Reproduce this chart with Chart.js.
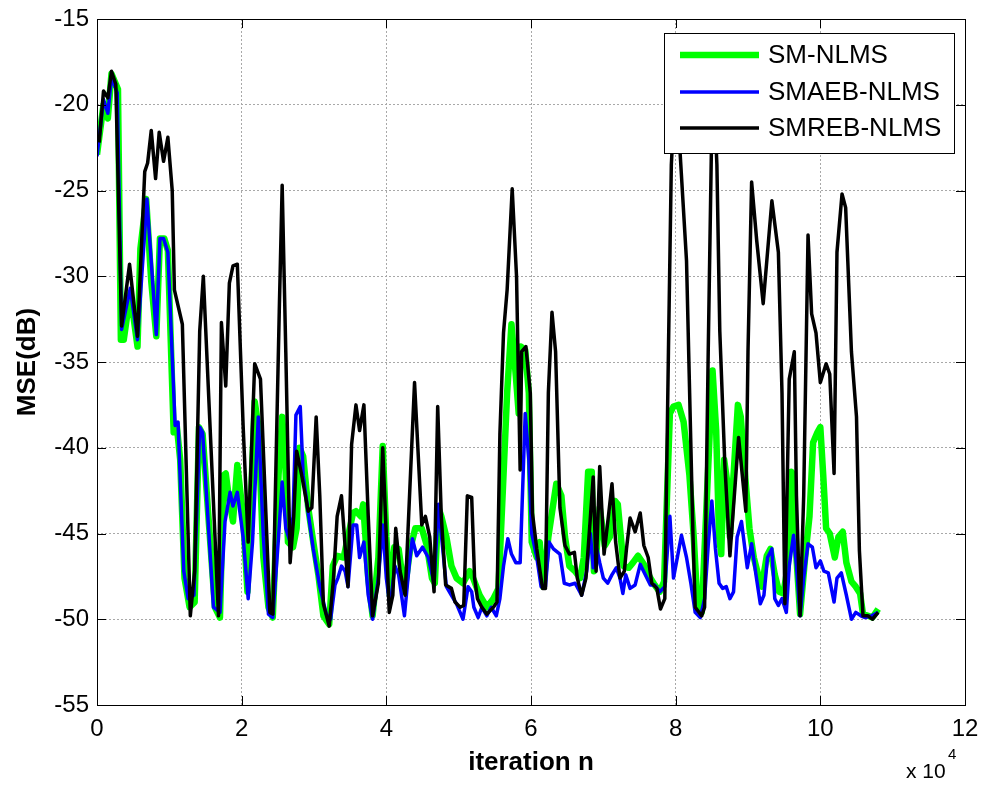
<!DOCTYPE html>
<html>
<head>
<meta charset="utf-8">
<script src="https://cdn.jsdelivr.net/npm/chart.js@4.4.1/dist/chart.umd.min.js"></script>
<style>
  html, body { margin: 0; padding: 0; background: #fff; }
  #wrap { position: relative; width: 982px; height: 787px; }
</style>
</head>
<body>
<div id="wrap"><canvas id="mse"></canvas></div>
<script>
// iteration n, MSE in dB
const smIter = [0, 900, 1500, 2000, 2900, 3300, 3700, 4600, 5600, 6000, 6800, 7500, 8200, 8700, 9300, 9800,
  10600, 11000, 11500, 12100, 12800, 13500, 14100, 14600, 15400, 16300, 17000, 17500, 17800, 18200, 18800, 19400,
  20200, 20800, 21800, 22300, 23000, 23700, 24300, 25100, 25600, 26000, 26400, 27100, 27600, 28000, 28500, 29200,
  29900, 30600, 31300, 32100, 32600, 33200, 34100, 34700, 35400, 35800, 36500, 36800, 37500, 38100, 38900, 39500,
  40000, 40500, 41100, 41700, 42500, 43300, 44000, 44900, 45600, 46300, 46700, 47200, 47600, 48300, 49000, 49700,
  50600, 51500, 52000, 52900, 53900, 54800, 55500, 56200, 56700, 57300, 57900, 58300, 58600, 59200, 59700, 60100,
  60800, 61200, 61700, 62400, 63000, 63500, 64200, 64700, 65300, 66100, 66800, 67300, 67900, 68400, 68700, 69000,
  69500, 70200, 70900, 71600, 72000, 72800, 73500, 74100, 74800, 75600, 76500, 77100, 77800, 78400, 79200, 79700,
  80400, 81100, 81900, 82500, 83000, 83600, 84200, 84700, 85100, 85600, 86000, 86300, 86700, 87100, 87500, 88000,
  88600, 89000, 89600, 90200, 90800, 91400, 91900, 92600, 93100, 93700, 94300, 94900, 95500, 96000, 96300, 96700,
  97200, 97900, 98500, 99000, 99600, 100000, 100400, 100800, 101300, 102000, 102500, 103100, 103600, 104300, 104900,
  105500, 105900, 106600, 107200, 108000];
const smMse = [-22.9, -20.0, -20.8, -18.2, -19.1, -33.7, -33.7, -31.0, -34.1, -28.4, -25.5, -30.3, -33.5, -27.8, -27.8, -28.5,
  -39.1, -38.6, -40.7, -47.6, -49.3, -49.0, -38.8, -39.2, -44.0, -49.3, -49.9, -41.6, -41.5, -42.8, -44.3, -41.0,
  -44.0, -48.4, -37.3, -38.7, -46.4, -49.3, -49.9, -41.6, -38.2, -40.4, -45.5, -45.8, -44.7, -40.0, -40.5, -43.5,
  -45.5, -47.4, -49.8, -50.3, -46.9, -46.3, -46.4, -45.2, -43.8, -43.7, -44.0, -43.3, -47.6, -49.8, -46.4, -39.9,
  -45.2, -48.6, -45.8, -45.9, -48.4, -45.9, -44.7, -44.7, -45.7, -47.6, -47.9, -43.5, -44.0, -45.2, -46.9, -47.6,
  -47.9, -47.2, -47.6, -48.6, -49.3, -48.8, -48.2, -41.6, -36.8, -32.8, -35.8, -38.0, -34.1, -34.3, -36.8, -45.5,
  -46.4, -45.5, -48.1, -45.2, -43.5, -42.1, -42.8, -45.2, -46.9, -47.2, -47.6, -46.4, -41.4, -41.4, -47.2, -46.4,
  -43.5, -45.7, -45.2, -43.1, -43.3, -46.9, -47.0, -46.7, -46.3, -46.8, -47.6, -48.0, -48.4, -47.8, -38.0, -37.6,
  -37.5, -38.5, -41.6, -45.2, -49.1, -49.6, -44.0, -39.2, -35.5, -39.0, -45.2, -46.2, -40.7, -41.9, -45.2, -41.6,
  -37.5, -38.2, -41.6, -44.7, -46.4, -47.4, -48.1, -46.3, -45.9, -47.4, -48.4, -48.5, -46.9, -41.4, -41.6, -46.4,
  -49.7, -46.4, -44.0, -39.7, -39.1, -38.8, -41.6, -44.7, -45.0, -46.4, -45.2, -44.9, -46.7, -47.8, -48.1,
  -48.5, -49.7, -49.8, -49.9, -49.4];

const aebIter = [0, 900, 1500, 2000, 2800, 3400, 4600, 5600, 6900, 8200, 8700, 9200, 9800, 10800, 11200, 12000,
  12600, 13400, 14200, 14600, 16100, 17000, 17700, 18400, 18800, 19400, 20200, 20900, 21500, 22300, 23000, 23700,
  24300, 25100, 25600, 26100, 26700, 27100, 27500, 28100, 28500, 29200, 29900, 30800, 31700, 32300, 32900, 33300,
  33800, 34300, 34700, 35400, 35900, 36300, 36900, 37500, 38100, 38900, 39500, 40000, 40500, 41200, 41700, 42500,
  43200, 43600, 44200, 45000, 45800, 46600, 47200, 47800, 48300, 49000, 49700, 50600, 51300, 51800, 52100, 52700,
  53200, 53900, 54500, 55200, 55700, 56200, 56800, 57300, 57900, 58500, 59200, 59700, 60100, 60800, 61400, 62000,
  62500, 63100, 64000, 64600, 65300, 66100, 67000, 67700, 68200, 68600, 69100, 69500, 70000, 70600, 71200, 71800,
  72300, 72700, 73100, 73700, 74400, 75100, 75800, 76500, 77100, 77800, 78500, 79200, 79700, 80100, 80800, 81500,
  82100, 82700, 83400, 84000, 84500, 85000, 85500, 86000, 86500, 87000, 87500, 88000, 88500, 89100, 89900, 90500,
  91100, 91700, 92200, 92700, 93300, 93700, 94200, 94700, 95300, 95700, 96300, 96700, 97200, 97700, 98300, 98900,
  99400, 100000, 100500, 101100, 101900, 102300, 102900, 103600, 104300, 104900, 105600, 106200, 107100, 108000];
const aebMse = [-23.0, -19.7, -20.5, -18.4, -19.3, -33.1, -30.7, -33.7, -25.5, -33.4, -27.8, -27.8, -28.6, -38.7, -38.5, -47.2,
  -48.8, -48.6, -38.8, -39.1, -49.3, -49.6, -44.3, -42.6, -43.4, -42.6, -45.2, -48.8, -45.5, -38.2, -45.2, -49.7,
  -49.9, -45.2, -42.0, -44.7, -45.5, -44.0, -38.1, -37.6, -41.6, -43.8, -45.9, -48.1, -49.7, -50.0, -48.0, -47.6,
  -46.9, -47.2, -48.1, -44.5, -44.5, -46.4, -45.5, -48.6, -50.0, -47.6, -44.5, -47.6, -49.3, -46.9, -47.4, -49.8,
  -46.7, -45.3, -46.3, -45.8, -46.4, -47.9, -43.3, -45.9, -48.1, -48.6, -49.1, -50.0, -48.1, -48.4, -49.3, -49.9,
  -49.3, -49.8, -49.3, -49.8, -48.8, -46.9, -45.3, -46.2, -46.7, -46.7, -38.0, -40.7, -45.0, -46.4, -48.1, -48.1,
  -45.5, -45.9, -46.2, -47.9, -48.0, -47.9, -48.6, -47.2, -45.0, -47.0, -45.9, -46.7, -47.6, -47.9, -47.4, -47.0,
  -47.6, -48.5, -47.4, -48.2, -48.0, -46.8, -47.4, -48.0, -48.0, -48.4, -48.1, -44.0, -47.6, -46.7, -45.1, -46.4,
  -47.9, -49.6, -49.9, -48.8, -45.7, -43.1, -45.9, -47.9, -48.2, -48.1, -48.8, -48.4, -45.2, -44.3, -47.0, -45.6,
  -47.4, -49.1, -48.6, -46.4, -45.9, -48.8, -49.2, -48.8, -49.6, -46.9, -45.1, -46.9, -49.8, -47.6, -45.6, -45.8,
  -47.0, -46.6, -47.2, -47.3, -49.0, -47.6, -47.3, -48.6, -50.0, -49.6, -49.8, -49.9, -49.8, -49.6];

const rebIter = [300, 900, 1500, 2000, 2600, 3400, 4500, 5600, 6600, 7000, 7500, 8100, 8600, 9200, 9800, 10400,
  10700, 11800, 12900, 13500, 14200, 14700, 16800, 17200, 17800, 18300, 18800, 19400, 20200, 20900, 21800, 22600,
  23900, 24300, 25200, 25600, 26100, 26700, 27200, 27600, 28300, 29200, 29700, 30300, 30800, 31300, 32100, 32700,
  33200, 33800, 34700, 35200, 35800, 36300, 36900, 37500, 38100, 38900, 39500, 40000, 40400, 40900, 41300, 41900,
  42600, 43900, 44900, 45400, 46000, 46600, 47100, 47600, 48200, 49000, 49500, 50200, 50700, 51200, 51800, 52200,
  52600, 53200, 53900, 54800, 55300, 55700, 56200, 56700, 57400, 58000, 58500, 58700, 59300, 59900, 60200, 60800,
  61600, 62000, 62400, 62900, 63400, 64000, 64700, 65300, 66000, 66400, 67000, 67600, 68100, 68600, 69000, 69500,
  70100, 70700, 71200, 71700, 72300, 72900, 73200, 73700, 74400, 75100, 75600, 76200, 76700, 77400, 77900, 78500,
  79000, 79400, 79900, 80500, 81500, 82400, 82700, 83600, 84000, 84500, 85000, 85300, 85700, 86100, 86800, 87500,
  88700, 89700, 90000, 90500, 91200, 92100, 93300, 94200, 94700, 95100, 95700, 96400, 96700, 97200, 97700, 98300,
  98800, 99400, 100000, 100800, 101300, 101900, 102300, 103000, 103500, 104300, 105000, 105400, 105900, 106600,
  107200, 108000];
const rebMse = [-22.2, -19.2, -19.6, -18.05, -18.8, -32.9, -29.3, -33.5, -23.9, -23.4, -21.5, -24.3, -21.6, -23.3, -21.9, -25.0,
  -30.8, -32.8, -49.8, -47.2, -33.2, -30.0, -49.8, -32.7, -36.4, -30.4, -29.4, -29.3, -38.7, -45.5, -35.1, -36.0,
  -49.6, -49.7, -32.0, -24.7, -34.4, -46.7, -44.0, -40.2, -41.6, -43.7, -43.5, -38.2, -42.8, -49.1, -50.4, -47.6,
  -44.0, -42.8, -48.1, -39.8, -37.5, -39.0, -37.5, -44.0, -49.8, -47.9, -40.0, -45.2, -49.6, -48.6, -44.7, -47.2,
  -48.6, -36.2, -44.5, -44.0, -45.2, -48.4, -37.6, -44.0, -48.0, -48.2, -49.0, -49.3, -49.2, -42.8, -42.9, -47.6,
  -48.8, -49.3, -49.7, -49.3, -49.0, -39.2, -33.3, -30.8, -24.9, -30.0, -41.3, -34.4, -34.1, -36.8, -43.8, -45.9,
  -48.2, -48.2, -36.8, -32.1, -34.4, -43.5, -45.7, -46.2, -46.1, -47.6, -48.6, -47.6, -44.7, -41.7, -47.2, -41.1,
  -46.2, -44.0, -42.1, -45.5, -47.6, -47.2, -45.9, -44.1, -44.9, -43.8, -45.7, -46.4, -47.9, -48.2, -49.4, -48.8,
  -34.4, -23.5, -19.5, -22.0, -29.1, -45.2, -49.3, -49.8, -49.3, -34.4, -21.0, -19.5, -23.5, -33.2, -41.0, -46.3,
  -39.4, -43.7, -34.4, -24.5, -27.9, -31.6, -25.6, -28.6, -36.8, -49.1, -36.0, -34.4, -42.8, -49.8, -42.8, -27.6,
  -32.2, -33.3, -36.2, -35.1, -35.7, -41.5, -28.6, -25.2, -26.0, -34.4, -38.2, -46.0, -49.8, -49.8,
  -50.0, -49.6];

const seriesNames = ['SM-NLMS', 'SMAEB-NLMS', 'SMREB-NLMS'];
const seriesColors = ['#00ff00', '#0000ff', '#000000'];
const yTicks = [-55, -50, -45, -40, -35, -30, -25, -20, -15];
const xTicks = [0, 20000, 40000, 60000, 80000, 100000, 120000];

const FONT = '"Liberation Sans", Arial, Helvetica, sans-serif';

const toPoints = (xs, ys) => xs.map((x, i) => ({ x: x, y: ys[i] }));

// box, inward ticks, legend, x 10^4 multiplier
const matlabFrame = {
  id: 'matlabFrame',
  afterDraw(chart) {
    const { ctx, chartArea: a, scales } = chart;
    const tl = 9;
    ctx.save();
    ctx.strokeStyle = '#000';
    ctx.lineWidth = 1;
    ctx.beginPath();
    yTicks.forEach(v => {
      const y = Math.round(scales.y.getPixelForValue(v)) + 0.5;
      ctx.moveTo(a.left, y); ctx.lineTo(a.left + tl, y);
      ctx.moveTo(a.right, y); ctx.lineTo(a.right - tl, y);
    });
    xTicks.forEach(v => {
      const x = Math.round(scales.x.getPixelForValue(v)) + 0.5;
      ctx.moveTo(x, a.bottom); ctx.lineTo(x, a.bottom - tl);
      ctx.moveTo(x, a.top); ctx.lineTo(x, a.top + tl);
    });
    ctx.stroke();
    ctx.strokeRect(Math.round(a.left) + 0.5, Math.round(a.top) + 0.5,
      Math.round(a.right - a.left), Math.round(a.bottom - a.top));

    // legend
    const lx = 664, ly = 33, lw = 290, lh = 120;
    ctx.fillStyle = '#fff';
    ctx.fillRect(lx, ly, lw, lh);
    ctx.strokeRect(lx + 0.5, ly + 0.5, lw, lh);
    const rows = [55, 92, 128];
    const widths = [6.5, 3.5, 3.5];
    ctx.font = '26px ' + FONT;
    ctx.textBaseline = 'middle';
    seriesNames.forEach((name, i) => {
      ctx.strokeStyle = seriesColors[i];
      ctx.lineWidth = widths[i];
      ctx.beginPath();
      ctx.moveTo(680, rows[i]); ctx.lineTo(759, rows[i]);
      ctx.stroke();
      ctx.fillStyle = '#000';
      ctx.fillText(name, 768, rows[i] + 1);
    });

    // axis multiplier
    ctx.fillStyle = '#000';
    ctx.textBaseline = 'alphabetic';
    ctx.font = '21px ' + FONT;
    ctx.fillText('x 10', 906, 778);
    ctx.font = '15px ' + FONT;
    ctx.fillText('4', 948, 759);
    ctx.restore();
  }
};

const lineSet = (i, xs, ys, width, order) => ({
  label: seriesNames[i],
  data: toPoints(xs, ys),
  borderColor: seriesColors[i],
  backgroundColor: seriesColors[i],
  borderWidth: width,
  borderJoinStyle: 'round',
  pointRadius: 0,
  tension: 0,
  fill: false,
  order: order
});

new Chart(document.getElementById('mse'), {
  type: 'line',
  data: {
    datasets: [
      lineSet(0, smIter, smMse, 6.5, 3),
      lineSet(1, aebIter, aebMse, 3.5, 2),
      lineSet(2, rebIter, rebMse, 3.5, 1)
    ]
  },
  options: {
    responsive: true,
    maintainAspectRatio: false,
    animation: false,
    layout: { padding: { top: 19, right: 17, left: 0, bottom: 0 } },
    plugins: {
      legend: { display: false },
      tooltip: { enabled: false }
    },
    scales: {
      x: {
        type: 'linear',
        min: 0,
        max: 120000,
        afterFit: s => { s.height = 82; s.paddingLeft = 0; s.paddingRight = 0; },
        afterBuildTicks: s => { s.ticks = xTicks.map(v => ({ value: v })); },
        ticks: {
          callback: v => String(v / 10000),
          font: { family: FONT, size: 24 },
          color: '#000',
          padding: 10,
          maxRotation: 0
        },
        grid: { color: '#a8a8a8', lineWidth: 1, drawTicks: false },
        border: { display: false, dash: [2, 2] },
        title: {
          display: true,
          text: 'iteration n',
          font: { family: FONT, size: 26, weight: 'bold' },
          color: '#000',
          padding: { top: 0, bottom: 9 }
        }
      },
      y: {
        min: -55,
        max: -15,
        afterFit: s => { s.width = 97; s.paddingTop = 0; s.paddingBottom = 0; },
        afterBuildTicks: s => { s.ticks = yTicks.map(v => ({ value: v })); },
        ticks: {
          font: { family: FONT, size: 24 },
          color: '#000',
          padding: 8
        },
        grid: { color: '#a8a8a8', lineWidth: 1, drawTicks: false },
        border: { display: false, dash: [2, 2] },
        title: {
          display: true,
          text: 'MSE(dB)',
          font: { family: FONT, size: 26, weight: 'bold' },
          color: '#000',
          padding: { top: 12, bottom: 0 }
        }
      }
    }
  },
  plugins: [matlabFrame]
});
</script>
</body>
</html>
